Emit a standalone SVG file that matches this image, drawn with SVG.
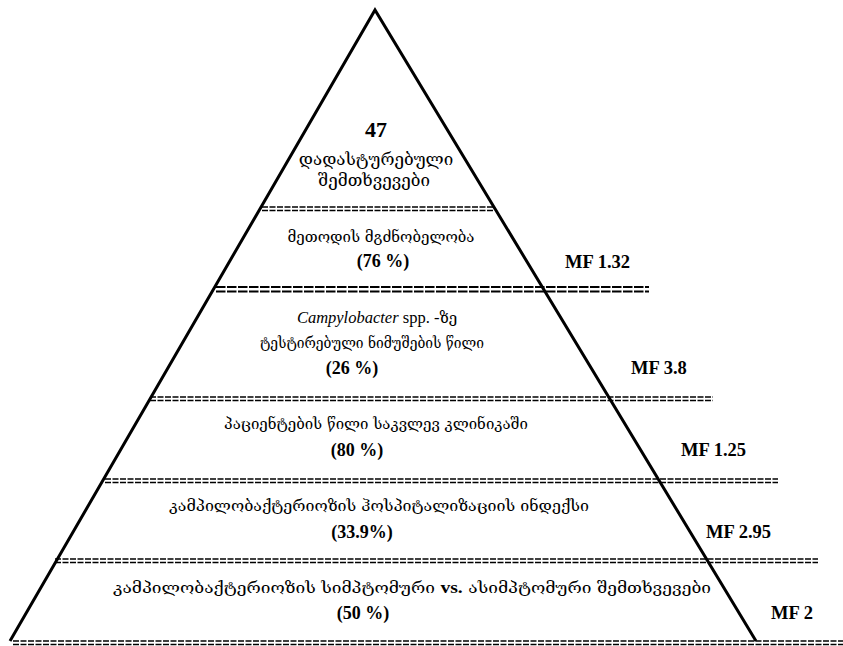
<svg xmlns="http://www.w3.org/2000/svg" width="843" height="646" viewBox="0 0 843 646">
<style>
.geo{font-family:"DejaVu Serif","Noto Sans",serif;font-size:15px;fill:#000;text-anchor:middle}
.num{font-family:"Liberation Serif","Times New Roman",serif;font-weight:bold;font-size:18px;fill:#000;text-anchor:middle}
.mf{font-family:"Liberation Serif","Times New Roman",serif;font-weight:bold;font-size:18.5px;fill:#000}
.sep{stroke:#000;stroke-width:1.6;stroke-dasharray:6 1.5;fill:none}
.sepL{stroke:#000;stroke-width:1.8;stroke-dasharray:9.5 1.5;fill:none}
.edge{stroke:#000;stroke-width:3;fill:none;stroke-linejoin:miter}
</style>
<rect width="843" height="646" fill="#fff"/>
<g id="connectors">
<polyline class="edge" points="10,641 375,10 756,641"/>
<g id="separators">
<line class="sep" x1="262" y1="207" x2="493" y2="207"/><line class="sep" x1="262" y1="210.5" x2="493" y2="210.5"/>
<line class="sepL" x1="216" y1="287" x2="649" y2="287"/><line class="sepL" x1="216" y1="291.5" x2="649" y2="291.5"/>
<line class="sep" x1="150" y1="397" x2="713" y2="397"/><line class="sep" x1="150" y1="400.5" x2="713" y2="400.5"/>
<line class="sep" x1="105" y1="479" x2="778" y2="479"/><line class="sep" x1="105" y1="482.5" x2="778" y2="482.5"/>
<line class="sep" x1="55" y1="559" x2="818" y2="559"/><line class="sep" x1="55" y1="562.5" x2="818" y2="562.5"/>
<line class="sep" x1="13" y1="641" x2="843" y2="641"/><line class="sep" x1="13" y1="644.5" x2="843" y2="644.5"/>
</g>
</g>
<g id="level1">
<text class="num" x="376" y="137" style="font-size:22px">47</text>
<text class="geo" x="376" y="165" style="font-size:17px">დადასტურებული</text>
<text class="geo" x="374" y="186" style="font-size:17px">შემთხვევები</text>
</g>
<g id="level2">
<text class="geo" x="381" y="242">მეთოდის მგძნობელობა</text>
<text class="num" x="383" y="267">(76 %)</text>
<text class="mf" x="565" y="268">MF 1.32</text>
</g>
<g id="level3">
<text class="geo" x="377" y="323"><tspan font-family="Liberation Serif" font-style="italic" font-size="16.5">Campylobacter</tspan><tspan font-family="Liberation Serif" font-size="16.5"> spp. -</tspan>ზე</text>
<text class="geo" x="372" y="348" textLength="224" lengthAdjust="spacingAndGlyphs">ტესტირებული ნიმუშების წილი</text>
<text class="num" x="352" y="374">(26 %)</text>
<text class="mf" x="631" y="374">MF 3.8</text>
</g>
<g id="level4">
<text class="geo" x="376" y="429">პაციენტების წილი საკვლევ კლინიკაში</text>
<text class="num" x="357" y="456">(80 %)</text>
<text class="mf" x="681" y="456">MF 1.25</text>
</g>
<g id="level5">
<text class="geo" x="379" y="511" textLength="420" lengthAdjust="spacingAndGlyphs">კამპილობაქტერიოზის ჰოსპიტალიზაციის ინდექსი</text>
<text class="num" x="362" y="538">(33.9%)</text>
<text class="mf" x="706" y="538">MF 2.95</text>
</g>
<g id="level6">
<text class="geo" x="412" y="593" textLength="598" lengthAdjust="spacingAndGlyphs">კამპილობაქტერიოზის სიმპტომური <tspan font-family="Liberation Serif" font-weight="bold" font-size="17">vs.</tspan> ასიმპტომური შემთხვევები</text>
<text class="num" x="363" y="619">(50 %)</text>
<text class="mf" x="771" y="619">MF 2</text>
</g>
</svg>
